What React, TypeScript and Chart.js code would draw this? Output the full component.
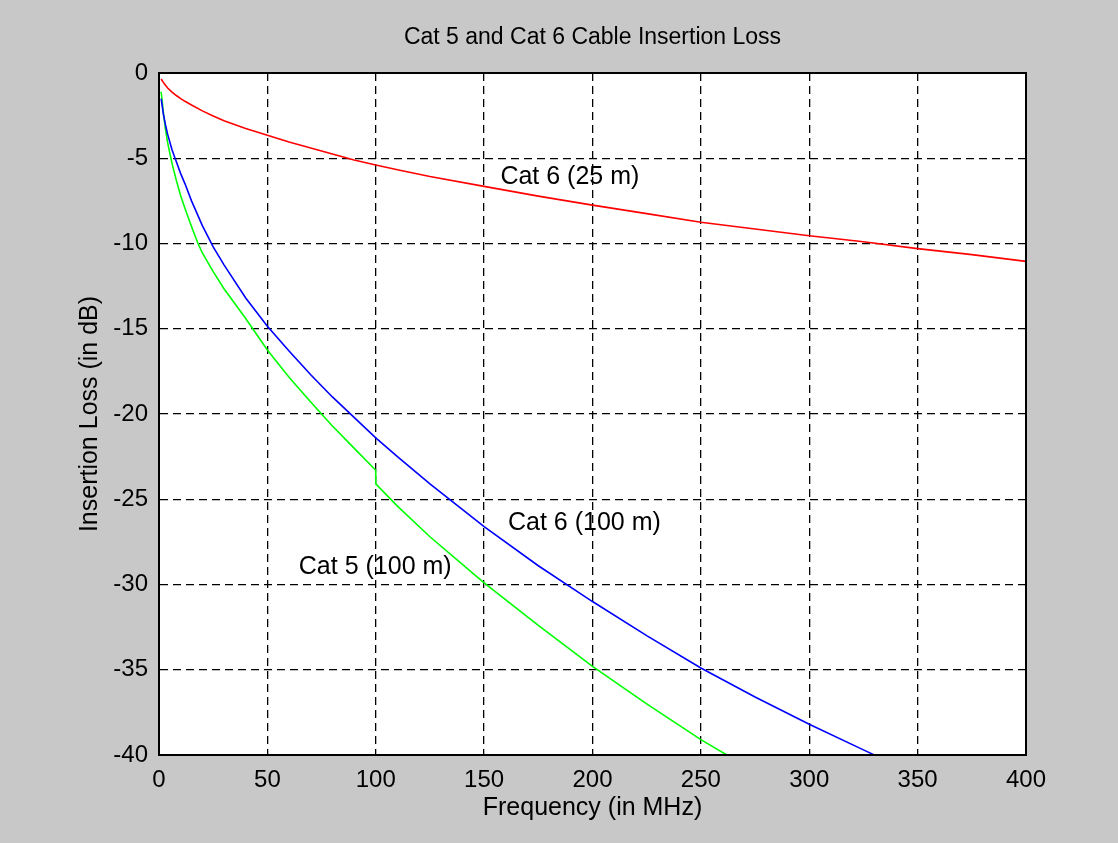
import React, { useEffect, useRef } from "react";
import { Chart, registerables } from "chart.js";

Chart.register(...registerables);

// Cat 6 cable, 25 m
const CAT6_25_FREQ = [1, 2, 3, 4, 6, 8, 10, 12, 15, 20, 25, 30, 40, 50, 60, 70, 80, 90, 100, 110, 125, 150, 175, 200, 225, 250, 275, 300, 325, 350, 375, 400];
const CAT6_25_LOSS = [-0.35, -0.55, -0.72, -0.88, -1.12, -1.32, -1.5, -1.66, -1.88, -2.22, -2.52, -2.8, -3.25, -3.65, -4.05, -4.4, -4.75, -5.1, -5.4, -5.67, -6.07, -6.65, -7.22, -7.75, -8.25, -8.75, -9.15, -9.55, -9.9, -10.3, -10.65, -11.05];

// Cat 6 cable, 100 m
const CAT6_100_FREQ = [1, 2, 3, 4, 6, 8, 10, 12, 15, 20, 25, 30, 40, 50, 60, 70, 80, 90, 100, 110, 125, 150, 175, 200, 225, 250, 275, 300, 325, 330];
const CAT6_100_LOSS = [-1.5, -2.4, -3.05, -3.6, -4.5, -5.2, -5.9, -6.5, -7.5, -8.95, -10.2, -11.25, -13.2, -14.85, -16.3, -17.7, -19.0, -20.2, -21.4, -22.5, -24.1, -26.6, -28.9, -31.0, -33.0, -34.9, -36.6, -38.2, -39.7, -40.0];

// Cat 5 cable, 100 m
const CAT5_100_FREQ = [1, 2, 3, 4, 6, 8, 10, 12, 15, 18, 20, 25, 30, 40, 50, 60, 70, 75, 80, 90, 100, 100, 110, 125, 150, 175, 200, 225, 250, 262];
const CAT5_100_LOSS = [-1.1, -2.3, -3.3, -4.1, -5.3, -6.3, -7.2, -7.95, -9.0, -10.0, -10.55, -11.65, -12.65, -14.4, -16.25, -17.85, -19.3, -20.0, -20.7, -22.0, -23.3, -24.1, -25.4, -27.2, -29.9, -32.4, -34.8, -37.0, -39.1, -40.0];

const X_TICKS = [0, 50, 100, 150, 200, 250, 300, 350, 400];
const Y_TICKS = [0, -5, -10, -15, -20, -25, -30, -35, -40];

const LABEL_TEXT = ["Cat 6 (25 m)", "Cat 6 (100 m)", "Cat 5 (100 m)"];
const LABEL_X = [157.5, 161, 64.5];
const LABEL_Y = [-6.1, -26.4, -29.0];

const TITLE = "Cat 5 and Cat 6 Cable Insertion Loss";
const FONT = "'Liberation Sans', Arial, sans-serif";
const TICK_FS = 24;
const TEXT_FS = 25;
const TITLE_FS = 23;

const toPoints = (xs: number[], ys: number[]) => xs.map((x, i) => ({ x, y: ys[i] }));

export default function App() {
  const ref = useRef<HTMLCanvasElement | null>(null);

  useEffect(() => {
    document.body.style.margin = "0";
    const canvas = ref.current;
    if (!canvas) return;

    const framePlugin = {
      id: "frame",
      beforeDraw(chart: any) {
        const { ctx, chartArea: a } = chart;
        ctx.save();
        ctx.fillStyle = "#ffffff";
        ctx.fillRect(a.left, a.top, a.right - a.left, a.bottom - a.top);
        ctx.restore();
      },
      afterDatasetsDraw(chart: any) {
        const { ctx, chartArea: a, scales } = chart;
        ctx.save();
        ctx.strokeStyle = "#000";
        ctx.lineWidth = 2;
        ctx.strokeRect(a.left, a.top, a.right - a.left, a.bottom - a.top);
        ctx.fillStyle = "#000";
        ctx.font = `${TEXT_FS}px ${FONT}`;
        ctx.textAlign = "left";
        ctx.textBaseline = "middle";
        LABEL_TEXT.forEach((t, i) => {
          ctx.fillText(t, scales.x.getPixelForValue(LABEL_X[i]), scales.y.getPixelForValue(LABEL_Y[i]));
        });
        ctx.font = `${TITLE_FS}px ${FONT}`;
        ctx.textAlign = "center";
        ctx.fillText(TITLE, (a.left + a.right) / 2, 38);
        ctx.restore();
      },
    };

    const chart = new Chart(canvas, {
      type: "scatter",
      data: {
        datasets: [
          { label: "Cat 6 (25 m)", data: toPoints(CAT6_25_FREQ, CAT6_25_LOSS), borderColor: "#ff0000" },
          { label: "Cat 6 (100 m)", data: toPoints(CAT6_100_FREQ, CAT6_100_LOSS), borderColor: "#0000ff" },
          { label: "Cat 5 (100 m)", data: toPoints(CAT5_100_FREQ, CAT5_100_LOSS), borderColor: "#00ff00" },
        ].map((d) => ({ ...d, showLine: true, pointRadius: 0, borderWidth: 1.6, tension: 0, fill: false })),
      },
      options: {
        animation: false,
        responsive: false,
        devicePixelRatio: 1,
        layout: { padding: { left: 0, top: 73, right: 92, bottom: 0 } },
        plugins: { legend: { display: false }, tooltip: { enabled: false }, title: { display: false } },
        scales: {
          x: {
            type: "linear",
            min: 0,
            max: 400,
            afterBuildTicks: (s: any) => { s.ticks = X_TICKS.map((v) => ({ value: v })); },
            afterFit: (s: any) => { s.height = 88; },
            grid: { color: "#000", lineWidth: 1.3, drawTicks: false },
            border: { display: true, color: "#000", width: 2, dash: [8, 5] },
            ticks: { color: "#000", padding: 11, font: { family: FONT, size: TICK_FS }, maxRotation: 0, callback: (v: any) => String(v) },
            title: { display: true, text: "Frequency (in MHz)", color: "#000", font: { family: FONT, size: TEXT_FS }, padding: { top: 0, bottom: 20 } },
          },
          y: {
            type: "linear",
            min: -40,
            max: 0,
            afterBuildTicks: (s: any) => { s.ticks = Y_TICKS.map((v) => ({ value: v })); },
            afterFit: (s: any) => { s.width = 159; },
            grid: { color: "#000", lineWidth: 1.3, drawTicks: false },
            border: { display: true, color: "#000", width: 2, dash: [8, 5] },
            ticks: { color: "#000", padding: 11, font: { family: FONT, size: TICK_FS }, callback: (v: any) => String(v) },
            title: { display: true, text: "Insertion Loss (in dB)", color: "#000", font: { family: FONT, size: TEXT_FS }, padding: { top: 75, bottom: 0 } },
          },
        },
      },
      plugins: [framePlugin],
    } as any);

    return () => chart.destroy();
  }, []);

  return (
    <div style={{ position: "absolute", left: 0, top: 0, width: 1118, height: 843, background: "#c8c8c8" }}>
      <canvas ref={ref} width={1118} height={843} />
    </div>
  );
}
